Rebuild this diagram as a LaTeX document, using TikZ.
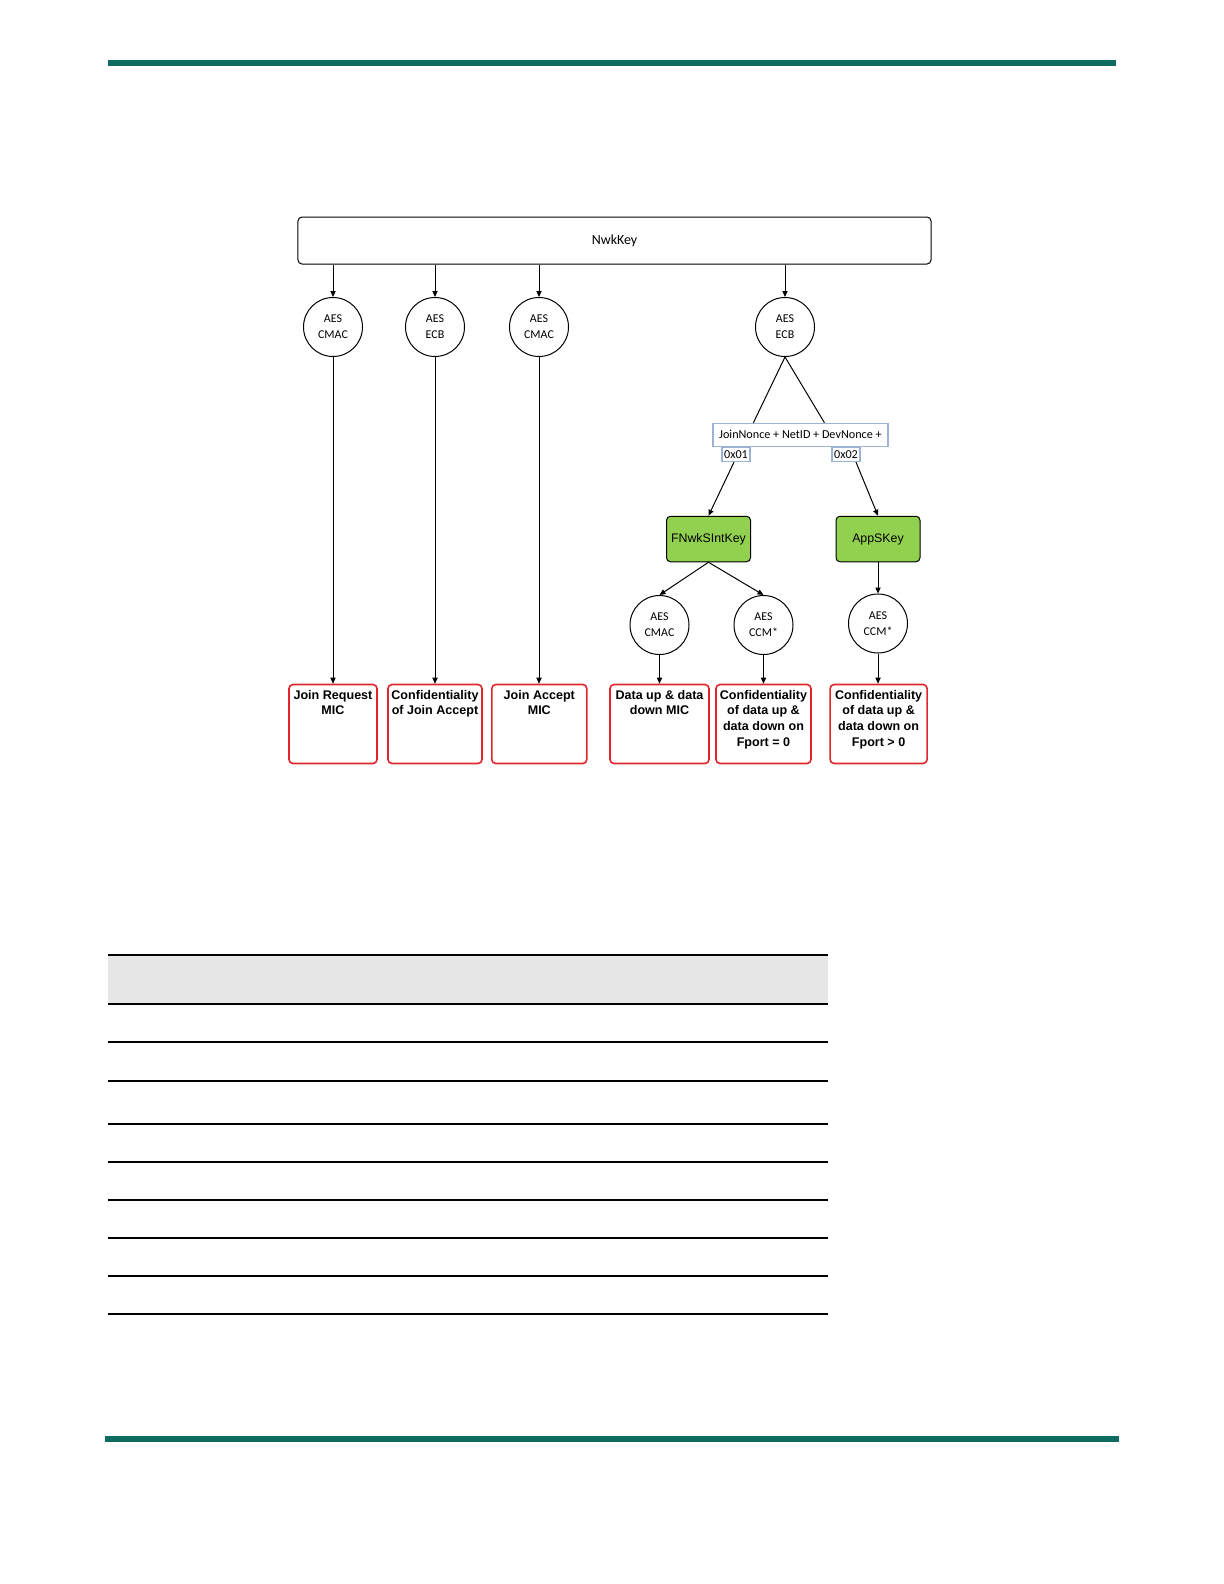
\documentclass[tikz,border=0pt]{standalone}
\usepackage{fontspec}
\setmainfont{Liberation Sans}
\newfontfamily\calib{Carlito}
\usetikzlibrary{positioning,arrows.meta,calc}
\definecolor{barteal}{HTML}{0E6B62}
\definecolor{keygreen}{HTML}{92D050}
\definecolor{usered}{HTML}{E1262B}
\definecolor{tagblue}{HTML}{9CB3D3}
\definecolor{headgray}{HTML}{E6E6E6}
\tikzset{
  figkey/.style={draw, rounded corners=2bp, line width=0.5bp, minimum width=316.5bp,
    minimum height=23.5bp, font=\calib\fontsize{7}{8}\selectfont},
  figaes/.style={circle, draw, line width=0.5bp, minimum size=29.5bp, inner sep=0pt,
    align=center, font=\calib\fontsize{6}{8}\selectfont},
  fignonce/.style={draw=tagblue, line width=0.6bp, minimum width=87.5bp, minimum height=11.5bp,
    inner sep=0pt, font=\calib\fontsize{6.1}{7}\selectfont},
  figtag/.style={fignonce, minimum width=14bp, minimum height=7bp},
  figsess/.style={draw, fill=keygreen, rounded corners=2bp, line width=0.5bp, minimum width=42bp,
    minimum height=22.75bp, inner sep=0pt, font=\fontsize{6.2}{7}\selectfont},
  figuse/.style={draw=usered, line width=0.8bp, rounded corners=2bp, inner sep=0pt,
    font=\bfseries\fontsize{6.3}{7.9}\selectfont},
  figarrow/.style={-{Triangle[length=3bp, width=2.6bp]}, line width=0.5bp},
  figline/.style={line width=0.5bp},
}
\newcommand{\usetext}[2]{\parbox[c][39.5bp][t]{#1}{\centering\vspace*{2.8bp}#2}}

\begin{document}
\begin{tikzpicture}[x=0.5bp, y=-0.5bp]
  \useasboundingbox (0,0) rectangle (1224,1584);
  % page bars
  \fill[barteal] (108,60) rectangle (1116,66);
  \fill[barteal] (105,1436) rectangle (1119,1442);
  % root key
  \node[figkey] (nwk) at (614.5,240.5) {NwkKey};
  % first row of AES blocks
  \node[figaes] (cmacjr) at (333,327) {AES\\CMAC};
  \node[figaes] (ecbja) at (435,327) {AES\\ECB};
  \node[figaes] (cmacja) at (539,327) {AES\\CMAC};
  \node[figaes] (ecbkey) at (785,327) {AES\\ECB};
  % derivation input
  \node[fignonce] (nonce) at (800.4,434.8) {JoinNonce + NetID + DevNonce +};
  \node[figtag] (tag1) at (736,454.5) {0x01};
  \node[figtag] (tag2) at (846,454.5) {0x02};
  % session keys
  \node[figsess] (fnwk) at (708.5,539) {FNwkSIntKey};
  \node[figsess] (apps) at (878,539) {AppSKey};
  % second row of AES blocks
  \node[figaes] (cmacdat) at (659.5,625) {AES\\CMAC};
  \node[figaes] (ccmnwk) at (763.5,625) {AES\\CCM*};
  \node[figaes] (ccmapp) at (878,623.5) {AES\\CCM*};
  % uses
  \node[figuse] (usejr) at (333,724) {\usetext{44bp}{Join Request\\MIC}};
  \node[figuse] (useja) at (435,724) {\usetext{47bp}{Confidentiality\\of Join Accept}};
  \node[figuse] (usejm) at (539.3,724) {\usetext{47.5bp}{Join Accept\\MIC}};
  \node[figuse] (usemic) at (659.5,724) {\usetext{49.5bp}{Data up \& data\\down MIC}};
  \node[figuse] (usef0) at (763.5,724) {\usetext{47.5bp}{Confidentiality\\of data up \&\\data down on\\Fport = 0}};
  \node[figuse] (usefp) at (878.6,724) {\usetext{48.5bp}{Confidentiality\\of data up \&\\data down on\\Fport > 0}};
  % key into AES blocks
  \foreach \blk in {cmacjr,ecbja,cmacja,ecbkey}
    \draw[figarrow] (nwk.south -| \blk) -- (\blk.north);
  % AES blocks into uses
  \draw[figarrow] (cmacjr.south) -- (cmacjr.south |- usejr.north);
  \draw[figarrow] (ecbja.south) -- (ecbja.south |- useja.north);
  \draw[figarrow] (cmacja.south) -- (cmacja.south |- usejm.north);
  \draw[figarrow] (cmacdat.south) -- (cmacdat.south |- usemic.north);
  \draw[figarrow] (ccmnwk.south) -- (ccmnwk.south |- usef0.north);
  \draw[figarrow] (ccmapp.south) -- (ccmapp.south |- usefp.north);
  % key derivation
  \draw[figline] (ecbkey.south) -- ([xshift=-23.5bp]nonce.north);
  \draw[figline] (ecbkey.south) -- ([xshift=12bp]nonce.north);
  \draw[figarrow] ([xshift=-1bp]tag1.south) -- (fnwk.north);
  \draw[figarrow] ([xshift=5bp]tag2.south) -- (apps.north);
  \draw[figarrow] (fnwk.south) -- (cmacdat.north);
  \draw[figarrow] (fnwk.south) -- (ccmnwk.north);
  \draw[figarrow] (apps.south) -- (ccmapp.north);
  % table rules
  \fill[headgray] (108,955) rectangle (828,1004);
  \draw[line width=1bp] (108,955) -- (828,955);
  \foreach \yy in {1004,1042,1081,1124,1162,1200,1238,1276,1314}
    \draw[line width=0.75bp] (108,\yy) -- (828,\yy);
\end{tikzpicture}
\end{document}
